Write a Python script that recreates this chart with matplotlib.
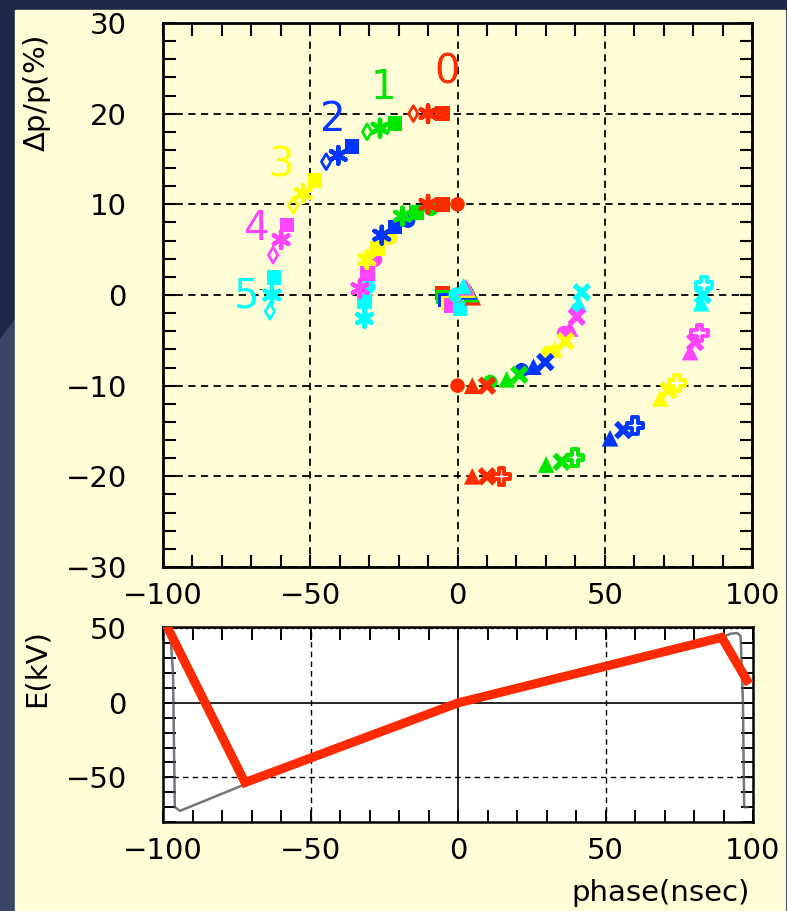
import matplotlib.pyplot as plt
from matplotlib.patches import Rectangle, Polygon
from matplotlib.ticker import MultipleLocator
import numpy as np

plt.rcParams['font.family'] = ['DejaVu Sans']
plt.rcParams['axes.unicode_minus'] = True

# colour of each turn 0..5
turn_colors = ['#ff2a00', '#00e800', '#0036ff', '#ffff00', '#ff44ff', '#00ffff']
turn_labels = ['0', '1', '2', '3', '4', '5']
label_phase = [-3.6, -25.3, -42.3, -59.6, -68.1, -71.5]
label_dp = [24.5, 22.8, 19.3, 14.3, 7.3, -0.2]

# particles tracked over turns 0..5 : phase (nsec) and dp/p (%)
dia_hi_ph = [-15.0, -30.7, -44.6, -55.8, -62.6, -63.7]
dia_hi_dp = [20.0, 18.0, 14.7, 9.9, 4.4, -1.8]
ast_hi_ph = [-10.0, -26.3, -40.5, -52.4, -59.9, -63.0]
ast_hi_dp = [20.0, 18.4, 15.4, 11.2, 6.1, 0.0]
sq_hi_ph = [-5.0, -21.2, -35.8, -48.4, -57.9, -62.3]
sq_hi_dp = [20.0, 18.9, 16.4, 12.6, 7.7, 1.9]

circ_mid_ph = [0.0, -9.0, -16.8, -22.9, -28.0, -30.3]
circ_mid_dp = [10.0, 9.5, 8.2, 6.3, 3.9, 0.9]
sq_mid_ph = [-5.0, -13.9, -21.2, -27.1, -30.5, -31.6]
sq_mid_dp = [10.0, 9.1, 7.5, 5.1, 2.4, -0.7]
ast_mid_ph = [-10.0, -18.7, -25.7, -30.8, -33.1, -31.6]
ast_mid_dp = [10.0, 8.7, 6.6, 3.9, 0.7, -2.6]

sq_zero_ph = [-5.0, -4.8, -4.2, -3.2, -2.0, 0.9]
sq_zero_dp = [0.2, -0.2, -0.55, -0.9, -1.15, -1.5]
circ_zero_ph = [0.0, -0.1, -0.2, -0.3, -0.4, -0.6]
circ_zero_dp = [0.0, 0.0, 0.0, 0.0, 0.0, 0.0]
tri_zero_ph = [5.2, 4.6, 4.0, 3.5, 2.9, 2.0]
tri_zero_dp = [-0.25, 0.1, 0.4, 0.6, 0.85, 1.0]

circ_lo_ph = [0.0, 11.1, 21.8, 30.9, 36.2, 40.8]
circ_lo_dp = [-10.0, -9.6, -8.3, -6.4, -4.2, -1.6]
tri_lo_ph = [5.0, 16.7, 25.8, 32.9, 38.2, 41.2]
tri_lo_dp = [-10.0, -9.3, -7.9, -6.0, -3.7, -1.0]
x_lo_ph = [10.0, 21.0, 29.8, 36.7, 40.5, 42.2]
x_lo_dp = [-10.0, -8.8, -7.4, -5.1, -2.4, 0.3]

tri_bot_ph = [5.0, 30.1, 51.8, 68.8, 79.0, 82.7]
tri_bot_dp = [-20.0, -18.7, -15.8, -11.4, -6.3, -0.9]
x_bot_ph = [10.0, 35.4, 56.3, 71.6, 80.7, 83.3]
x_bot_dp = [-20.0, -18.4, -14.9, -10.5, -5.2, 0.0]
plus_bot_ph = [15.0, 39.9, 60.3, 74.5, 82.1, 83.7]
plus_bot_dp = [-20.0, -17.9, -14.4, -9.7, -4.2, 1.1]

# accelerating voltage
model_ph = [-98.3, -72.2, 0.0, 89.4, 97.9]
model_e = [50.0, -53.5, 0.0, 44.0, 15.3]
meas_ph = [-98.5, -97.6, -96.6, -96.0, -94.2, -72.2, 0.0, 89.4, 92.5, 94.6, 95.8, 96.6, 97.0, 98.0]
meas_e = [50.0, 49.0, 20.0, -70.0, -72.5, -54.7, 0.0, 44.0, 46.5, 47.0, 45.0, 0.0, -70.0, -70.0]

navy = '#1d2746'
cream = '#fffdd6'

fig = plt.figure(figsize=(7.87, 9.11), dpi=100)
fig.patch.set_facecolor(navy)
W, H = 787.0, 911.0
fig.patches.append(Polygon([(0, 1 - 340 / H), (15 / W, 1 - 320 / H), (15 / W, 0), (0, 0)],
                           closed=True, transform=fig.transFigure, color='#394565', zorder=-2))
fig.patches.append(Rectangle((15 / W, 0), 770 / W, 901 / H, transform=fig.transFigure,
                             color=cream, zorder=-1))

ax = fig.add_axes([163 / W, 1 - 567 / H, 589 / W, 544 / H])
ax.set_facecolor('none')
ax.set_xlim(-100, 100)
ax.set_ylim(-30, 30)
ax.xaxis.set_major_locator(MultipleLocator(50))
ax.xaxis.set_minor_locator(MultipleLocator(10))
ax.yaxis.set_major_locator(MultipleLocator(10))
ax.yaxis.set_minor_locator(MultipleLocator(2))
ax.tick_params(which='both', direction='in', top=True, right=True, length=9, width=1.5)
ax.tick_params(axis='x', labelsize=21, pad=11)
ax.tick_params(axis='y', labelsize=21, pad=26)
for s in ax.spines.values():
    s.set_linewidth(2)
ax.grid(which='major', color='k', ls=(0, (4, 3)), lw=1.3)
ax.set_axisbelow(True)


def draw(ph, dp, marker, size, hollow=False, lw=0.0, fill=None):
    if hollow:
        ax.scatter(ph, dp, marker=marker, s=size ** 2, facecolors=fill if fill else 'none',
                   edgecolors=turn_colors, linewidths=lw, zorder=3, clip_on=False)
    else:
        ax.scatter(ph, dp, marker=marker, s=size ** 2, c=turn_colors, linewidths=lw,
                   zorder=3, clip_on=False)


star = (6, 2, 0)
draw(dia_hi_ph, dia_hi_dp, 'd', 8, hollow=True, lw=2.0)
draw(ast_hi_ph, ast_hi_dp, star, 12, lw=3.2)
draw(sq_hi_ph, sq_hi_dp, 's', 10.5)
draw(circ_mid_ph, circ_mid_dp, 'o', 10.5)
draw(sq_mid_ph, sq_mid_dp, 's', 10.5)
draw(ast_mid_ph, ast_mid_dp, star, 12, lw=3.2)
draw(sq_zero_ph, sq_zero_dp, 's', 10.5)
draw(circ_zero_ph, circ_zero_dp, 'o', 10.5)
draw(tri_zero_ph, tri_zero_dp, '^', 12)
draw(circ_lo_ph, circ_lo_dp, 'o', 10.5)
draw(tri_lo_ph, tri_lo_dp, '^', 12)
draw(x_lo_ph, x_lo_dp, 'x', 10.5, lw=4)
draw(tri_bot_ph, tri_bot_dp, '^', 12)
draw(x_bot_ph, x_bot_dp, 'x', 10.5, lw=4)
draw(plus_bot_ph, plus_bot_dp, 'P', 12, hollow=True, lw=2.8, fill='white')

for lab, x, y, c in zip(turn_labels, label_phase, label_dp, turn_colors):
    ax.text(x, y, lab, color=c, fontsize=29, ha='center', va='center', zorder=4)
ax.text(-66.9, 0.7, '-', fontsize=8, ha='center', va='center')
ax.text(88.2, 0.6, '-', fontsize=8, ha='center', va='center')

fig.text(37 / W, 1 - 94 / H, r'$\Delta$p/p(%)', rotation=90, fontsize=21,
         ha='center', va='center')

# lower panel: voltage waveform
ax2 = fig.add_axes([163 / W, 1 - 822 / H, 590 / W, 195 / H])
ax2.set_facecolor('white')
ax2.set_xlim(-100, 100)
ax2.set_ylim(-80, 51)
ax2.xaxis.set_major_locator(MultipleLocator(50))
ax2.xaxis.set_minor_locator(MultipleLocator(10))
ax2.yaxis.set_major_locator(MultipleLocator(50))
ax2.yaxis.set_minor_locator(MultipleLocator(10))
ax2.tick_params(which='both', direction='in', top=True, right=True, length=9, width=1.4)
ax2.tick_params(axis='x', labelsize=21, pad=11)
ax2.tick_params(axis='y', labelsize=21, pad=26)
for s in ax2.spines.values():
    s.set_linewidth(1.8)
ax2.axhline(0, color='k', lw=1.2, zorder=1)
ax2.axvline(0, color='k', lw=1.2, zorder=1)
ax2.axhline(-50, color='k', lw=1.0, ls=(0, (4, 3)), zorder=1)
ax2.axhline(50, color='k', lw=1.0, ls=(0, (2, 2)), zorder=1)
for xv in (-50, 50):
    ax2.axvline(xv, color='k', lw=1.0, ls=(0, (4, 3)), zorder=1)
ax2.plot(meas_ph, meas_e, color='#555555', lw=1.8, alpha=0.8, zorder=2)
ax2.plot(model_ph, model_e, color='#ff2a00', lw=6.5, solid_joinstyle='miter', zorder=3)

fig.text(37 / W, 1 - 668 / H, 'E(kV)', rotation=90, fontsize=21, ha='center', va='center')
fig.text(750 / W, 1 - 893 / H, 'phase(nsec)', fontsize=21, ha='right', va='center')

fig.savefig('out.png', dpi=100, facecolor=fig.get_facecolor())
